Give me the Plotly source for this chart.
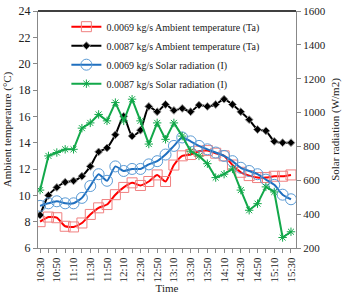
import plotly.graph_objects as go

times = ["10:30","10:40","10:50","11:00","11:10","11:20","11:30","11:40","11:50","12:00",
         "12:10","12:20","12:30","12:40","12:50","13:00","13:10","13:20","13:30","13:40",
         "13:50","14:00","14:10","14:20","14:30","14:40","14:50","15:00","15:10","15:20","15:30"]

ta_0069 = [8.0, 8.35, 8.3, 7.65, 7.6, 7.9, 8.55, 9.05, 9.3, 10.05,
           10.6, 10.95, 10.75, 11.05, 11.55, 11.05, 12.3, 13.0, 13.1, 13.35,
           13.4, 13.2, 13.0, 12.3, 11.75, 11.5, 11.35, 11.35, 11.45, 11.45, 11.55]

ta_0087 = [8.5, 10.0, 10.6, 11.0, 11.1, 11.45, 12.2, 13.3, 13.6, 14.6,
           16.0, 14.5, 14.95, 16.75, 16.35, 16.9, 16.45, 16.6, 16.35, 16.85,
           16.75, 16.9, 17.3, 16.9, 16.35, 15.75, 15.0, 14.9, 14.1, 14.0, 14.0]

si_0069 = [449, 464, 476, 464, 464, 496, 566, 636, 597, 682,
           655, 667, 667, 694, 713, 752, 803, 853, 830, 803,
           783, 764, 744, 713, 674, 655, 636, 604, 573, 515, 488]

si_0087 = [542, 744, 764, 783, 783, 908, 939, 989, 951, 1059,
           951, 1079, 951, 814, 939, 842, 939, 861, 772, 744,
           698, 616, 636, 667, 542, 423, 462, 561, 531, 262, 296]

tick_labels = [t if i % 2 == 0 else "" for i, t in enumerate(times)]

FONT = "Liberation Serif"
fig = go.Figure()

fig.add_trace(go.Scatter(
    x=times, y=ta_0069, name="0.0069 kg/s Ambient temperature (Ta)",
    mode="lines+markers", line=dict(color="#FF0000", width=2, shape="spline", smoothing=0.6),
    marker=dict(symbol="square-open", size=10, color="#F08080", line=dict(width=1)),
    yaxis="y"))
fig.add_trace(go.Scatter(
    x=times, y=ta_0087, name="0.0087 kg/s Ambient temperature (Ta)",
    mode="lines+markers", line=dict(color="#000000", width=2, shape="spline", smoothing=0.6),
    marker=dict(symbol="diamond", size=6, color="#000000", line=dict(width=1, color="#999999")),
    yaxis="y"))
fig.add_trace(go.Scatter(
    x=times, y=si_0069, name="0.0069 kg/s Solar radiation (I)",
    mode="lines+markers", line=dict(color="#1F6FBF", width=2, shape="spline", smoothing=0.6),
    marker=dict(symbol="circle-open", size=11, color="#5B9BD5", line=dict(width=1)),
    yaxis="y2"))
fig.add_trace(go.Scatter(
    x=times, y=si_0087, name="0.0087 kg/s Solar radiation (I)",
    mode="lines+markers", line=dict(color="#12A84A", width=2),
    marker=dict(symbol="asterisk-open", size=7, color="#12A84A", line=dict(width=1)),
    yaxis="y2"))

fig.update_layout(
    width=348, height=298,
    margin=dict(l=38, r=52, t=11, b=50, autoexpand=False),
    paper_bgcolor="white", plot_bgcolor="white",
    font=dict(family=FONT, size=11, color="#222222"),
    showlegend=True,
    legend=dict(x=0.11, y=0.995, xanchor="left", yanchor="top",
                bgcolor="rgba(255,255,255,0)", font=dict(family=FONT, size=10, color="#222222"),
                tracegroupgap=0, itemwidth=30),
    xaxis=dict(
        type="category", tickmode="array", tickvals=times, ticktext=tick_labels,
        tickangle=-90, ticks="outside", ticklen=4, tickcolor="#888888",
        showline=True, linecolor="#888888", linewidth=1, showgrid=False,
        range=[-0.25, 30.6], automargin=False,
        title=dict(text="Time", font=dict(family=FONT, size=11), standoff=2),
        tickfont=dict(family=FONT, size=11)),
    yaxis=dict(
        range=[6, 24], dtick=2, ticks="outside", ticklen=4, tickcolor="#888888",
        showline=True, linecolor="#888888", linewidth=1, showgrid=False, zeroline=False,
        automargin=False,
        title=dict(text="Ambient temperature (°C)", font=dict(family=FONT, size=11), standoff=4),
        tickfont=dict(family=FONT, size=12)),
    yaxis2=dict(
        range=[200, 1600], dtick=200, overlaying="y", side="right",
        ticks="outside", ticklen=4, tickcolor="#888888",
        showline=True, linecolor="#888888", linewidth=1, showgrid=False, zeroline=False,
        automargin=False,
        title=dict(text="Solar radiation (W/m2)", font=dict(family=FONT, size=11), standoff=6),
        tickfont=dict(family=FONT, size=11)),
    shapes=[dict(type="line", xref="paper", yref="paper", x0=0, x1=1, y0=1, y1=1,
                 line=dict(color="#000000", width=1.5))],
)

fig.write_html("out.html")
